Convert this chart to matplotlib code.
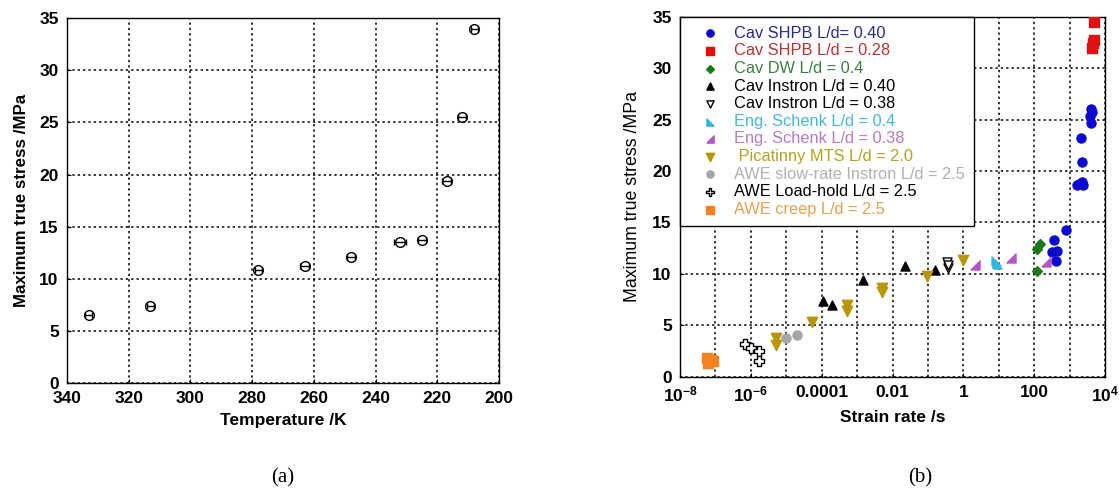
import numpy as np
import matplotlib
matplotlib.use('Agg')
import matplotlib.pyplot as plt
from matplotlib.ticker import FixedLocator, FixedFormatter, NullFormatter

plt.rcParams['font.family'] = 'Liberation Sans'
plt.rcParams['mathtext.fontset'] = 'custom'
plt.rcParams['mathtext.rm'] = 'Liberation Sans'
plt.rcParams['mathtext.bf'] = 'Liberation Sans:bold'

# (a) esfuerzo maximo frente a temperatura
temperatura = [333, 313, 278, 263, 248, 232, 225, 217, 212, 208]
esfuerzo_T = [6.5, 7.4, 10.8, 11.2, 12.1, 13.5, 13.7, 19.4, 25.5, 34.0]
err_T = [1.2, 1.2, 1.2, 1.5, 1.2, 2.0, 1.2, 1.5, 1.2, 1.2]

# (b) esfuerzo maximo frente a velocidad de deformacion
shpb40_x = [7.9e2, 3.7e2, 3.2e2, 4.4e2, 4.0e2, 1.9e3, 2.45e3, 2.2e3, 1.6e3, 2.2e3, 2.1e3, 4.1e3, 3.8e3, 4.0e3, 4.3e3]
shpb40_y = [14.3, 13.3, 12.1, 12.2, 11.2, 18.7, 18.6, 18.95, 18.6, 20.85, 23.2, 26.0, 25.3, 24.7, 25.7]
shpb28_x = [5.0e3, 4.8e3, 4.4e3, 4.6e3]
shpb28_y = [34.45, 32.7, 32.0, 32.4]
dw_x = [1.45e2, 1.23e2, 1.23e2]
dw_y = [12.85, 12.4, 10.25]
instron40_x = [1.07e-4, 2.0e-4, 1.5e-3, 2.3e-2, 0.16]
instron40_y = [7.35, 7.0, 9.4, 10.8, 10.35]
instron38_x = [0.35, 0.36, 0.38]
instron38_y = [11.1, 10.6, 10.85]
schenk4_x = [8.5, 9.0]
schenk4_y = [11.2, 10.95]
schenk38_x = [2.1, 22.0, 2.2e2]
schenk38_y = [10.9, 11.55, 11.1]
pica_x = [5.1e-6, 5.1e-6, 5.2e-5, 5.1e-4, 5.1e-4, 5.0e-3, 5.0e-3, 9.3e-2, 0.98]
pica_y = [3.75, 3.1, 5.35, 7.0, 6.4, 8.6, 8.2, 9.8, 11.3]
awe_lento_x = [9.8e-6, 2.0e-5]
awe_lento_y = [3.75, 4.0]
awe_carga_x = [6.9e-7, 1.0e-6, 1.75e-6, 1.75e-6]
awe_carga_y = [3.15, 2.8, 2.45, 1.5]
awe_creep_x = [5.8e-8, 6.0e-8, 7.5e-8, 8.5e-8, 6.5e-8]
awe_creep_y = [1.8, 1.3, 1.6, 1.55, 1.5]

ticks_rate = [1e-8, 1e-6, 1e-4, 1e-2, 1, 1e2, 1e4]
etiquetas_rate = [r'$\mathbf{10^{-8}}$', r'$\mathbf{10^{-6}}$', '0.0001', '0.01', '1', '100', r'$\mathbf{10^{4}}$']

tri_izq = [(-1, -1), (1, -1), (-1, 1), (-1, -1)]
tri_der = [(-1, -1), (1, -1), (1, 1), (-1, -1)]

fig = plt.figure(figsize=(11.19, 4.93), dpi=100)
ax1 = fig.add_axes([0.0599, 0.2231, 0.386, 0.740])
ax2 = fig.add_axes([0.6077, 0.2361, 0.3798, 0.730])

# ---- panel (a) ----
ax1.errorbar(temperatura, esfuerzo_T, xerr=err_T, fmt='o', mfc='none', mec='black',
             ecolor='black', ms=7, mew=1.0, elinewidth=1.0, capsize=2, zorder=3)
ax1.set_xlim(340, 200)
ax1.set_ylim(0, 35)
ax1.set_xticks(np.arange(340, 199, -20))
ax1.set_yticks(np.arange(0, 36, 5))
ax1.grid(True, color='black', linestyle=(0, (1.5, 2)), linewidth=1.1)
ax1.set_xlabel('Temperature /K', fontsize=12.5, fontweight='bold', labelpad=5)
ax1.set_ylabel('Maximum true stress /MPa', fontsize=12.2, fontweight='bold', labelpad=7)

# ---- panel (b) ----
ms = 6.5
ax2.scatter(shpb40_x, shpb40_y, marker='o', s=ms**2, color='#0a0ad0', label='Cav SHPB L/d= 0.40', zorder=3)
ax2.scatter(shpb28_x, shpb28_y, marker='s', s=ms**2, color='#e01010', label='Cav SHPB L/d = 0.28', zorder=3)
ax2.scatter(dw_x, dw_y, marker='D', s=5**2, color='#1a7a1a', label='Cav DW L/d = 0.4', zorder=3)
ax2.scatter(instron40_x, instron40_y, marker='^', s=ms**2, color='black', label='Cav Instron L/d = 0.40', zorder=3)
ax2.scatter(instron38_x, instron38_y, marker='v', s=ms**2, facecolor='white', edgecolor='black',
            linewidth=1.0, label='Cav Instron L/d = 0.38', zorder=3)
ax2.scatter(schenk4_x, schenk4_y, marker=tri_izq, s=ms**2, color='#33b5e0', label='Eng. Schenk L/d = 0.4', zorder=3)
ax2.scatter(schenk38_x, schenk38_y, marker=tri_der, s=ms**2, color='#b455c8', label='Eng. Schenk L/d = 0.38', zorder=3)
ax2.scatter(pica_x, pica_y, marker='v', s=(ms + 1)**2, color='#b8960c', label=' Picatinny MTS L/d = 2.0', zorder=3)
ax2.scatter(awe_lento_x, awe_lento_y, marker='o', s=ms**2, color='#a5a5a5', label='AWE slow-rate Instron L/d = 2.5', zorder=3)
ax2.scatter(awe_carga_x, awe_carga_y, marker='P', s=ms**2, facecolor='white', edgecolor='black',
            linewidth=1.0, label='AWE Load-hold L/d = 2.5', zorder=3)
ax2.scatter(awe_creep_x, awe_creep_y, marker='s', s=(ms + 1)**2, color='#f58220', label='AWE creep L/d = 2.5', zorder=3)

ax2.set_xscale('log')
ax2.set_xlim(1e-8, 1e4)
ax2.set_ylim(0, 35)
ax2.xaxis.set_major_locator(FixedLocator(ticks_rate))
ax2.xaxis.set_major_formatter(FixedFormatter(etiquetas_rate))
ax2.xaxis.set_minor_locator(FixedLocator([10.0**k for k in range(-7, 4, 2)]))
ax2.xaxis.set_minor_formatter(NullFormatter())
ax2.set_yticks(np.arange(0, 36, 5))
ax2.grid(True, which='both', color='black', linestyle=(0, (1.5, 2)), linewidth=1.1)
ax2.set_xlabel('Strain rate /s', fontsize=12.5, fontweight='bold', labelpad=4)
ax2.set_ylabel('Maximum true stress /MPa', fontsize=12.8, labelpad=8)

colores_texto = ['#2a2a90', '#b83232', '#3a7f40', 'black', 'black', '#45b8d8',
                 '#b67ac6', '#b4a222', '#b0b0b0', 'black', '#e3a050']
leg = ax2.legend(loc='upper left', bbox_to_anchor=(0, 1), borderaxespad=0, fontsize=11.8,
                 frameon=True, fancybox=False, framealpha=1, edgecolor='black',
                 labelcolor=colores_texto, handletextpad=0.15, labelspacing=0.16,
                 borderpad=0.55, handlelength=2.6, scatterpoints=1, markerscale=0.8)
leg.get_frame().set_linewidth(1.0)
leg.set_zorder(5)

for ax in (ax1, ax2):
    ax.tick_params(which='both', direction='in', length=3, labelsize=12.5, pad=6, color='black')
    for lbl in ax.get_xticklabels() + ax.get_yticklabels():
        lbl.set_fontweight('bold')
    for sp in ax.spines.values():
        sp.set_linewidth(1.0)
ax2.tick_params(which='minor', length=0)

fig.text(0.253, 0.030, '(a)', fontsize=15, family='Liberation Serif', ha='center', va='center')
fig.text(0.822, 0.030, '(b)', fontsize=15, family='Liberation Serif', ha='center', va='center')

plt.savefig('out.png', dpi=100)
plt.close()
